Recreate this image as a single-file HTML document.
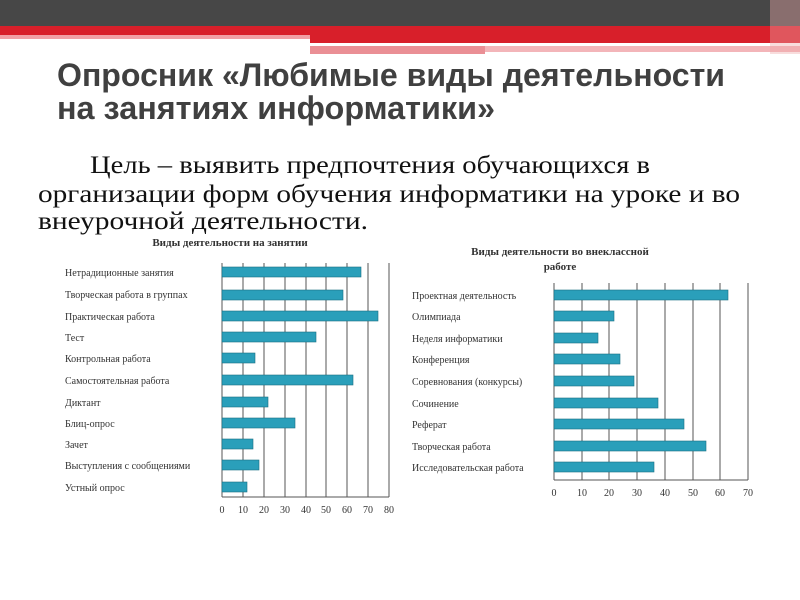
<!DOCTYPE html>
<html><head><meta charset="utf-8"><style>body{margin:0}svg{display:block}</style></head><body>
<svg width="800" height="600" xmlns="http://www.w3.org/2000/svg" font-family="Liberation Sans, sans-serif">
<rect width="800" height="600" fill="#fff"/>
<rect x="0" y="0" width="800" height="26" fill="#474747"/>
<rect x="0" y="26" width="800" height="9" fill="#d81f2a"/>
<rect x="0" y="35" width="310" height="4" fill="#f1a0a5"/>
<rect x="310" y="35" width="490" height="8" fill="#d81f2a"/>
<rect x="310" y="46" width="175" height="8" fill="#ea8f95"/>
<rect x="485" y="46" width="315" height="6" fill="#f3b5b9"/>
<rect x="770" y="0" width="30" height="54" fill="#eaa" opacity="0.4"/>
<g fill="#404040" font-weight="bold" font-size="32">
<text x="57" y="86" textLength="668" lengthAdjust="spacingAndGlyphs">Опросник «Любимые виды деятельности</text>
<text x="57" y="119" textLength="438" lengthAdjust="spacingAndGlyphs">на занятиях информатики»</text>
</g>
<g fill="#111" font-family="Liberation Serif, serif" font-size="25">
<text x="90" y="173" textLength="560" lengthAdjust="spacingAndGlyphs">Цель – выявить предпочтения обучающихся в</text>
<text x="38" y="202" textLength="702" lengthAdjust="spacingAndGlyphs">организации форм обучения информатики на уроке и во</text>
<text x="38" y="229" textLength="330" lengthAdjust="spacingAndGlyphs">внеурочной деятельности.</text>
</g>
<!-- left chart -->
<g font-family="Liberation Serif, serif" fill="#333">
<text x="230" y="246" font-size="11" font-weight="bold" text-anchor="middle">Виды деятельности на занятии</text>
<g stroke="#555" stroke-width="1">
<line x1="243" y1="263" x2="243" y2="497"/><line x1="264" y1="263" x2="264" y2="497"/><line x1="285" y1="263" x2="285" y2="497"/><line x1="306" y1="263" x2="306" y2="497"/><line x1="326" y1="263" x2="326" y2="497"/><line x1="347" y1="263" x2="347" y2="497"/><line x1="368" y1="263" x2="368" y2="497"/><line x1="389" y1="263" x2="389" y2="497"/>
<line x1="222" y1="263" x2="222" y2="497"/><line x1="222" y1="497" x2="389" y2="497"/>
</g>
<g fill="#2a9fba" stroke="#1b6f82" stroke-width="0.6">
<rect x="222" y="267" width="139" height="10"/><rect x="222" y="290" width="121" height="10"/><rect x="222" y="311" width="156" height="10"/><rect x="222" y="332" width="94" height="10"/><rect x="222" y="353" width="33" height="10"/><rect x="222" y="375" width="131" height="10"/><rect x="222" y="397" width="46" height="10"/><rect x="222" y="418" width="73" height="10"/><rect x="222" y="439" width="31" height="10"/><rect x="222" y="460" width="37" height="10"/><rect x="222" y="482" width="25" height="10"/>
</g>
<g font-size="10">
<text x="65" y="276">Нетрадиционные занятия</text><text x="65" y="298">Творческая работа в группах</text><text x="65" y="320">Практическая работа</text><text x="65" y="341">Тест</text><text x="65" y="362">Контрольная работа</text><text x="65" y="384">Самостоятельная работа</text><text x="65" y="406">Диктант</text><text x="65" y="427">Блиц-опрос</text><text x="65" y="448">Зачет</text><text x="65" y="469">Выступления с сообщениями</text><text x="65" y="491">Устный опрос</text>
</g>
<g font-size="10" text-anchor="middle">
<text x="222" y="513">0</text><text x="243" y="513">10</text><text x="264" y="513">20</text><text x="285" y="513">30</text><text x="306" y="513">40</text><text x="326" y="513">50</text><text x="347" y="513">60</text><text x="368" y="513">70</text><text x="389" y="513">80</text>
</g>
</g>
<!-- right chart -->
<g font-family="Liberation Serif, serif" fill="#333">
<text x="560" y="255" font-size="11" font-weight="bold" text-anchor="middle">Виды деятельности во внеклассной</text>
<text x="560" y="270" font-size="11" font-weight="bold" text-anchor="middle">работе</text>
<g stroke="#555" stroke-width="1">
<line x1="582" y1="283" x2="582" y2="480"/><line x1="609" y1="283" x2="609" y2="480"/><line x1="637" y1="283" x2="637" y2="480"/><line x1="665" y1="283" x2="665" y2="480"/><line x1="693" y1="283" x2="693" y2="480"/><line x1="720" y1="283" x2="720" y2="480"/><line x1="748" y1="283" x2="748" y2="480"/>
<line x1="554" y1="283" x2="554" y2="480"/><line x1="554" y1="480" x2="748" y2="480"/>
</g>
<g fill="#2a9fba" stroke="#1b6f82" stroke-width="0.6">
<rect x="554" y="290" width="174" height="10"/><rect x="554" y="311" width="60" height="10"/><rect x="554" y="333" width="44" height="10"/><rect x="554" y="354" width="66" height="10"/><rect x="554" y="376" width="80" height="10"/><rect x="554" y="398" width="104" height="10"/><rect x="554" y="419" width="130" height="10"/><rect x="554" y="441" width="152" height="10"/><rect x="554" y="462" width="100" height="10"/>
</g>
<g font-size="10">
<text x="412" y="299">Проектная деятельность</text><text x="412" y="320">Олимпиада</text><text x="412" y="342">Неделя информатики</text><text x="412" y="363">Конференция</text><text x="412" y="385">Соревнования (конкурсы)</text><text x="412" y="407">Сочинение</text><text x="412" y="428">Реферат</text><text x="412" y="450">Творческая работа</text><text x="412" y="471">Исследовательская работа</text>
</g>
<g font-size="10" text-anchor="middle">
<text x="554" y="496">0</text><text x="582" y="496">10</text><text x="609" y="496">20</text><text x="637" y="496">30</text><text x="665" y="496">40</text><text x="693" y="496">50</text><text x="720" y="496">60</text><text x="748" y="496">70</text>
</g>
</g>
</svg>
</body></html>
